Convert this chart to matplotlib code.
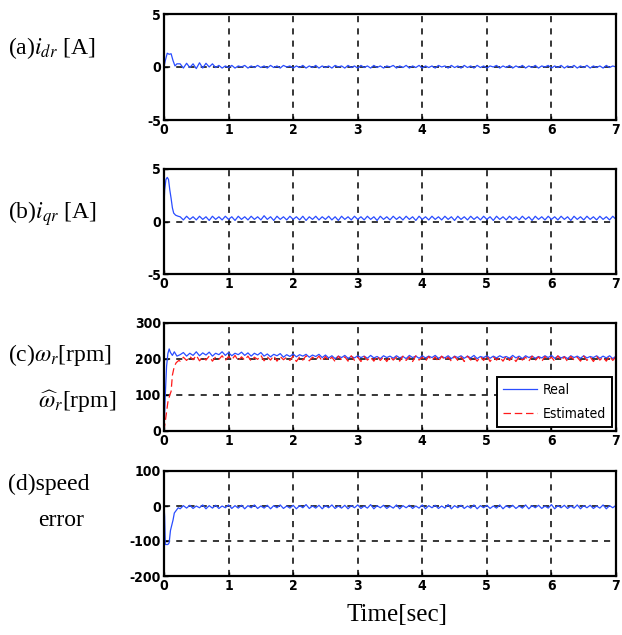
import numpy as np
import matplotlib
matplotlib.use("Agg")
import matplotlib.pyplot as plt
from matplotlib import font_manager as fm

plt.rcParams['axes.unicode_minus'] = False
plt.rcParams['mathtext.fontset'] = 'stix'

# ---------------- data ----------------
# panel (a) i_dr [A]
ida_t_tr = [0, 0.02, 0.05, 0.08, 0.11, 0.14, 0.17, 0.2]
ida_tr = [0, 0.6, 1.3, 1.2, 1.25, 0.6, 0.1, 0.3]
ida_ss = [0.3, -0.1, 0.35, -0.05, 0.3, -0.15, 0.4, -0.1, 0.35, 0.0, 0.3,
          -0.05, 0.15, -0.1, 0.1, -0.05, 0.15, -0.1, 0.1, 0.0, 0.15,
          -0.1, 0.1, -0.05, 0.15, -0.05, 0.1, -0.1, 0.15, -0.05, 0.1,
          -0.1, 0.15, 0.0, 0.1, -0.1, 0.1, -0.05, 0.15, -0.1, 0.1,
          -0.05, 0.15, -0.1, 0.1, -0.05, 0.1, -0.1, 0.15, 0.0, 0.1,
          -0.1, 0.15, -0.05, 0.1, -0.1, 0.15, -0.05, 0.1, -0.1, 0.15,
          -0.05, 0.1, -0.1, 0.1, 0.0, 0.15, -0.1, 0.1, -0.05, 0.15,
          -0.1, 0.1, -0.05, 0.15, -0.1, 0.1, -0.05, 0.1, -0.1, 0.15,
          0.0, 0.1, -0.1, 0.15, -0.05, 0.1, -0.1, 0.15, -0.05, 0.1,
          -0.1, 0.15, -0.05, 0.1, -0.1, 0.1, 0.0, 0.15, -0.1, 0.1,
          -0.05, 0.15, -0.1, 0.1, -0.05, 0.15, -0.1, 0.1, -0.05, 0.15,
          -0.1, 0.1, 0.0, 0.15, -0.1, 0.1, -0.05, 0.15, -0.1, 0.1,
          -0.05, 0.15, -0.1, 0.1, -0.05, 0.15, -0.1, 0.1, -0.05, 0.1,
          -0.1, 0.15, -0.05, 0.1, 0.0]

# panel (b) i_qr [A]
iqr_t_tr = [0, 0.01, 0.03, 0.05, 0.07, 0.09, 0.11, 0.13, 0.15, 0.18, 0.22]
iqr_tr = [1.5, 3.0, 4.0, 4.2, 4.0, 3.0, 2.2, 1.3, 0.8, 0.6, 0.5]
iqr_ss = [0.45, 0.15, 0.5, 0.2, 0.45, 0.15, 0.5, 0.2, 0.45, 0.1, 0.5,
          0.2, 0.45, 0.15, 0.5, 0.2, 0.45, 0.1, 0.5, 0.2, 0.45,
          0.15, 0.5, 0.2, 0.45, 0.15, 0.55, 0.2, 0.45, 0.1, 0.5,
          0.2, 0.45, 0.15, 0.5, 0.2, 0.45, 0.15, 0.5, 0.1, 0.45,
          0.2, 0.5, 0.15, 0.45, 0.2, 0.5, 0.15, 0.45, 0.1, 0.5,
          0.2, 0.45, 0.15, 0.5, 0.2, 0.45, 0.15, 0.5, 0.2, 0.45,
          0.1, 0.5, 0.2, 0.45, 0.15, 0.5, 0.2, 0.45, 0.15, 0.5,
          0.2, 0.45, 0.1, 0.5, 0.2, 0.45, 0.15, 0.5, 0.2, 0.45,
          0.15, 0.5, 0.2, 0.45, 0.1, 0.5, 0.2, 0.45, 0.15, 0.5,
          0.2, 0.45, 0.15, 0.5, 0.2, 0.45, 0.1, 0.5, 0.2, 0.45,
          0.15, 0.5, 0.2, 0.45, 0.15, 0.5, 0.2, 0.45, 0.1, 0.5,
          0.2, 0.45, 0.15, 0.5, 0.2, 0.45, 0.15, 0.5, 0.2, 0.45,
          0.1, 0.5, 0.2, 0.45, 0.15, 0.5, 0.2, 0.45, 0.15, 0.5,
          0.2, 0.45, 0.15, 0.5, 0.2]

# panel (c) rotor speed [rpm]
wr_t_tr = [0, 0.02, 0.04, 0.06, 0.08, 0.1, 0.13, 0.16, 0.2]
wr_tr = [0, 100, 180, 215, 228, 218, 210, 220, 208]
wr_ss = [212, 218, 208, 216, 210, 220, 209, 217, 211, 219, 208, 216, 212,
         220, 210, 218, 209, 216, 212, 219, 210, 217, 208, 216, 211, 218,
         208, 214, 206, 213, 209, 215, 205, 212, 207, 214,
         206, 212, 208, 213, 205, 211, 207, 213, 204, 211,
         203, 209, 201, 208, 204, 210, 202, 207, 203, 209,
         204, 208, 202, 210, 203, 207, 201, 209, 204, 208,
         202, 209, 203, 207, 201, 210, 204, 208, 202, 209,
         203, 208, 204, 210, 202, 207, 203, 209, 201, 208,
         204, 209, 202, 208, 203, 210, 201, 207, 204, 209,
         202, 208, 203, 209, 204, 207, 202, 210, 203, 208,
         201, 209, 204, 208, 202, 207, 203, 209, 204, 210,
         202, 208, 203, 207, 201, 209, 204, 208, 202, 209,
         203, 207, 204, 209, 202, 208, 203, 209, 201, 208]
wre_t_tr = [0, 0.03, 0.06, 0.09, 0.11, 0.13, 0.16, 0.19, 0.23]
wre_tr = [0, 40, 80, 100, 110, 155, 180, 190, 196]
wre_ss = [194, 205, 196, 207, 198, 210, 195, 205, 197, 208, 194, 206, 199,
          209, 196, 207, 198, 210, 195, 206, 197, 208, 194, 205, 199, 210,
          195, 206, 197, 209, 194, 207, 198, 205, 196, 208,
          193, 206, 197, 209, 195, 205, 198, 208, 194, 207,
          196, 205, 193, 208, 197, 206, 194, 209, 196, 205,
          193, 207, 197, 205, 194, 208, 196, 206, 193, 207,
          197, 205, 194, 208, 196, 206, 193, 209, 197, 205,
          194, 207, 196, 206, 193, 208, 197, 205, 194, 207,
          196, 206, 193, 208, 197, 205, 194, 207, 196, 209,
          193, 206, 197, 205, 194, 208, 196, 206, 193, 207,
          197, 205, 194, 208, 196, 206, 193, 207, 197, 205,
          194, 209, 196, 206, 193, 207, 197, 205, 194, 208,
          196, 206, 193, 207, 197, 205, 194, 208, 196, 206]

# panel (d) speed error [rpm]
err_t_tr = [0, 0.01, 0.02, 0.04, 0.06, 0.08, 0.1, 0.12, 0.14, 0.16, 0.18, 0.22]
err_tr = [0, -30, -110, -110, -110, -105, -70, -55, -40, -20, -15, -5]
err_ss = [-8, 1, -6, 2, -7, 0, -5, 3, -8, 1, -6, 2, -7,
          0, -5, 3, -7, 1, -6, 2, -8, 1, -5, 3, -7, 0,
          -6, 2, -8, 1, -5, 3, -7, 0, -6, 2,
          -8, 1, -5, 4, -7, 0, -6, 2, -8, 1,
          -5, 3, -7, 0, -6, 2, -8, 1, -5, 3,
          -7, 0, -6, 4, -8, 1, -5, 2, -7, 0,
          -6, 3, -8, 1, -5, 2, -7, 0, -6, 3,
          -8, 1, -5, 2, -7, 0, -6, 4, -8, 1,
          -5, 2, -7, 0, -6, 3, -8, 1, -5, 2,
          -7, 0, -6, 3, -8, 1, -5, 2, -7, 0,
          -6, 3, -8, 1, -5, 2, -7, 0, -6, 4,
          -8, 1, -5, 2, -7, 0, -6, 3, -8, 1,
          -5, 2, -7, 0, -6, 3, -8, 1, -5, 2]

x_ticks = [0, 1, 2, 3, 4, 5, 6, 7]
ylims = [(-5, 5), (-5, 5), (0, 300), (-200, 100)]
yticks = [[-5, 0, 5], [-5, 0, 5], [0, 100, 200, 300], [-200, -100, 0, 100]]


def series(t_tr, v_tr, v_ss, t0=0.25, t1=7.0):
    t_ss = np.linspace(t0, t1, len(v_ss))
    return np.concatenate([t_tr, t_ss]), np.concatenate([v_tr, v_ss])


# condensed tick font
_names = {f.name for f in fm.fontManager.ttflist}
if 'Liberation Sans Narrow' in _names:
    tick_font = fm.FontProperties(family='Liberation Sans Narrow', weight='bold', size=10)
else:
    tick_font = fm.FontProperties(family='DejaVu Sans', stretch='condensed', weight='bold', size=10)

# ---------------- figure ----------------
fig = plt.figure(figsize=(6.22, 6.35), dpi=100)
W, H = 622, 635
left_px, right_px = 164, 616
panels_px = [(14, 120), (169, 274), (323, 431), (471, 576)]

blue = '#2a4dff'
red = '#ff1a1a'

axes = []
for (top, bot), yl, yt in zip(panels_px, ylims, yticks):
    ax = fig.add_axes([left_px / W, 1 - bot / H, (right_px - left_px) / W, (bot - top) / H])
    ax.set_xlim(0, 7)
    ax.set_ylim(*yl)
    ax.set_xticks(x_ticks)
    ax.set_yticks(yt)
    ax.set_xticklabels([str(v) for v in x_ticks])
    ax.set_yticklabels([str(v) for v in yt])
    for lbl in ax.get_xticklabels() + ax.get_yticklabels():
        lbl.set_fontproperties(tick_font)
    ax.tick_params(direction='in', length=3, width=1, pad=2)
    ax.grid(True, color='black', linestyle=(0, (4, 4)), linewidth=1.1)
    for s in ax.spines.values():
        s.set_linewidth(1.6)
    axes.append(ax)

t, v = series(ida_t_tr, ida_tr, ida_ss)
axes[0].plot(t, v, color=blue, lw=0.9)
t, v = series(iqr_t_tr, iqr_tr, iqr_ss)
axes[1].plot(t, v, color=blue, lw=0.9)
t, v = series(wr_t_tr, wr_tr, wr_ss)
axes[2].plot(t, v, color=blue, lw=0.9, label='Real')
t, v = series(wre_t_tr, wre_tr, wre_ss)
axes[2].plot(t, v, color=red, lw=0.9, linestyle=(0, (6, 3)), label='Estimated')
t, v = series(err_t_tr, err_tr, err_ss)
axes[3].plot(t, v, color=blue, lw=0.9)

leg_font = tick_font.copy()
leg_font.set_weight('normal')
leg_font.set_size(10)
leg = axes[2].legend(loc='lower right', fancybox=False, framealpha=1, edgecolor='black',
                     prop=leg_font, handlelength=2.4, handletextpad=0.4,
                     borderpad=0.45, labelspacing=0.7, borderaxespad=0.3)
leg.get_frame().set_linewidth(1.4)

# left-side labels
lab = dict(family=['Liberation Serif', 'DejaVu Serif'], size=17, va='center', ha='left')
fig.text(8 / W, 1 - 48 / H, r'(a)$i_{dr}$ [A]', **lab)
fig.text(8 / W, 1 - 214 / H, r'(b)$i_{qr}$ [A]', **lab)
fig.text(8 / W, 1 - 355 / H, r'(c)$\omega_r$[rpm]', **lab)
fig.text(38 / W, 1 - 402 / H, r'$\widehat{\omega}_r$[rpm]', **lab)
fig.text(8 / W, 1 - 484 / H, '(d)speed', **lab)
fig.text(38 / W, 1 - 521 / H, 'error', **lab)

fig.text(397 / W, 1 - 615 / H, 'Time[sec]', family=['Liberation Serif', 'DejaVu Serif'],
         size=18, ha='center', va='center')

fig.savefig('out.png', dpi=100)
